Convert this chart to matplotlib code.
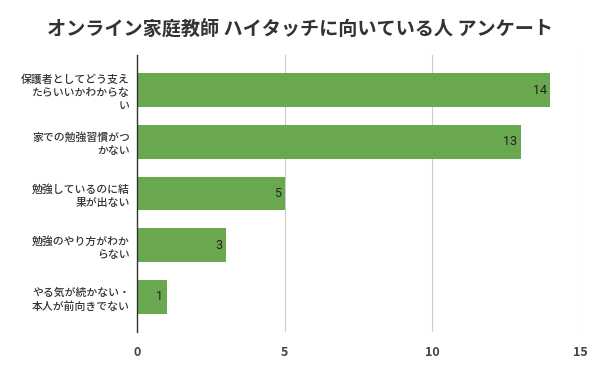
import matplotlib
matplotlib.use("Agg")
import matplotlib.pyplot as plt

plt.rcParams['font.family'] = ['Noto Sans CJK JP', 'DejaVu Sans']

categories = [
    "保護者としてどう支え\nたらいいかわからな\nい",
    "家での勉強習慣がつ\nかない",
    "勉強しているのに結\n果が出ない",
    "勉強のやり方がわか\nらない",
    "やる気が続かない・\n本人が前向きでない",
]
values = [14, 13, 5, 3, 1]
xticks = [0, 5, 10, 15]

fig = plt.figure(figsize=(6, 3.71), dpi=100)
ax = fig.add_axes([0.2283, 0.1051, 0.9667 - 0.2283, 0.8518 - 0.1051])

pos = list(range(len(categories)))
bars = ax.barh(pos, values, height=0.65, color='#6aa84f', zorder=3)
for p, v in zip(pos, values):
    ax.text(v - 0.12, p, str(v), ha='right', va='center', fontsize=9,
            family=['Roboto', 'DejaVu Sans'], color='#222222', zorder=4)

ax.set_ylim(4.68, -0.68)
ax.set_xlim(0, 15)
ax.set_xticks(xticks)
ax.set_xticklabels([str(t) for t in xticks], fontsize=9, fontweight='bold', color='#444444')
ax.set_yticks(pos)
ax.set_yticklabels(categories, fontsize=7.8, color='#333333', linespacing=1.4,
                   fontweight='medium')
ax.tick_params(axis='y', length=0, pad=5)
ax.tick_params(axis='x', length=0, pad=10)
ax.grid(axis='x', color='#cccccc', linewidth=0.8, zorder=0)
for s in ['top', 'right', 'bottom']:
    ax.spines[s].set_visible(False)
ax.spines['left'].set_color('#333333')
ax.spines['left'].set_linewidth(1.0)
ax.spines['left'].set_zorder(5)

fig.text(0.5, 1 - 30 / 371, "オンライン家庭教師 ハイタッチに向いている人 アンケート",
         ha='center', va='center', fontsize=13.8, fontweight='bold', color='#333333')

fig.savefig("out.png", dpi=100, facecolor='white')
